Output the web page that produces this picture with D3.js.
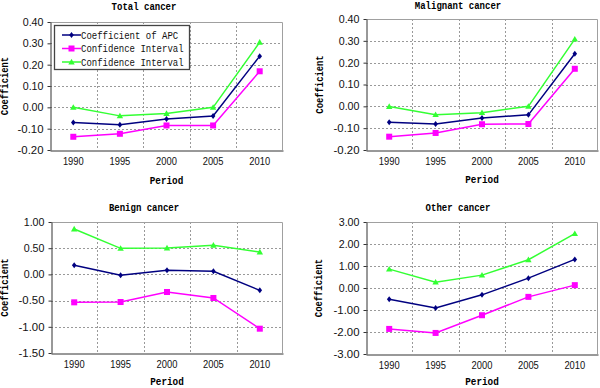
<!DOCTYPE html>
<html>
<head>
<meta charset="utf-8">
<script src="https://cdn.jsdelivr.net/npm/d3@7"></script>
<style>
  body { margin: 0; background: #fff; }
  svg { display: block; font-family: "Liberation Mono", "DejaVu Sans Mono", monospace; }
  .axis text { font-size: 10.5px; fill: #111; }
</style>
</head>
<body>
<div id="chart"></div>
<script>
const periods = ["1990", "1995", "2000", "2005", "2010"];
const seriesNames = ["Coefficient of APC", "Confidence Interval", "Confidence Interval"];

// values: [APC, lower CI, upper CI]
const totalApc = [-0.071, -0.082, -0.055, -0.041, 0.240];
const totalLow = [-0.138, -0.124, -0.085, -0.085, 0.169];
const totalHigh = [0.000, -0.040, -0.029, 0.000, 0.305];

const malignantApc = [-0.073, -0.081, -0.053, -0.039, 0.241];
const malignantLow = [-0.139, -0.122, -0.082, -0.081, 0.172];
const malignantHigh = [-0.001, -0.038, -0.029, 0.000, 0.308];

const benignApc = [0.173, -0.018, 0.078, 0.059, -0.304];
const benignLow = [-0.533, -0.527, -0.336, -0.450, -1.036];
const benignHigh = [0.866, 0.497, 0.504, 0.555, 0.427];

const otherApc = [-0.509, -0.904, -0.311, 0.448, 1.299];
const otherLow = [-1.860, -2.043, -1.238, -0.403, 0.130];
const otherHigh = [0.858, 0.266, 0.585, 1.284, 2.468];

const smallTicks = [-0.2, -0.1, 0, 0.1, 0.2, 0.3, 0.4];
const benignTicks = [-1.5, -1, -0.5, 0, 0.5, 1];
const otherTicks = [-3, -2, -1, 0, 1, 2, 3];

const colors = ["#000080", "#ff00ff", "#33ff33"];

const panels = [
  { title: "Total cancer", data: [totalApc, totalLow, totalHigh], ticks: smallTicks,
    box: { l: 50, r: 283, t: 22, b: 150 }, titleX: 144, titleY: 10, ylabX: 8, periodY: 184, legend: true },
  { title: "Malignant cancer", data: [malignantApc, malignantLow, malignantHigh], ticks: smallTicks,
    box: { l: 366, r: 598, t: 19, b: 150 }, titleX: 458, titleY: 9, ylabX: 323, periodY: 183 },
  { title: "Benign cancer", data: [benignApc, benignLow, benignHigh], ticks: benignTicks,
    box: { l: 51, r: 283, t: 222, b: 353 }, titleX: 144, titleY: 211, ylabX: 8, periodY: 385 },
  { title: "Other cancer", data: [otherApc, otherLow, otherHigh], ticks: otherTicks,
    box: { l: 366, r: 598, t: 222, b: 354 }, titleX: 458, titleY: 211, ylabX: 322, periodY: 385 }
];

const width = 600, height = 388;
const svg = d3.select("#chart").append("svg")
  .attr("width", width)
  .attr("height", height);

const fmt = v => d3.format(".2f")(v).replace("\u2212", "-");

// squeeze text to the narrow half-width glyphs of the original
function fit(sel, charW) {
  sel.each(function() {
    d3.select(this)
      .attr("textLength", this.textContent.length * charW)
      .attr("lengthAdjust", "spacingAndGlyphs");
  });
}

function marker(g, type, x, y, color) {
  if (type === 0) {
    g.append("path").attr("d", `M${x},${y - 3}L${x + 2.3},${y}L${x},${y + 3}L${x - 2.3},${y}Z`).attr("fill", color);
  } else if (type === 1) {
    g.append("rect").attr("x", x - 3).attr("y", y - 3).attr("width", 6).attr("height", 6).attr("fill", color);
  } else {
    g.append("path").attr("d", `M${x},${y - 3.2}L${x + 3.2},${y + 2.4}L${x - 3.2},${y + 2.4}Z`).attr("fill", color);
  }
}

panels.forEach(p => {
  const b = p.box;
  const g = svg.append("g");

  const x = d3.scaleBand().domain(periods).range([b.l, b.r]).padding(0);
  const y = d3.scaleLinear().domain(d3.extent(p.ticks)).range([b.b, b.t]);
  const cx = d => x(d) + x.bandwidth() / 2;

  // grid
  g.selectAll(".hg").data(p.ticks.slice(1, -1)).join("line")
    .attr("x1", b.l).attr("x2", b.r)
    .attr("y1", d => Math.round(y(d)) + 0.5).attr("y2", d => Math.round(y(d)) + 0.5)
    .attr("stroke", "#999").attr("stroke-dasharray", "2,2");
  g.selectAll(".vg").data(periods.slice(1)).join("line")
    .attr("x1", d => Math.round(x(d)) + 0.5).attr("x2", d => Math.round(x(d)) + 0.5)
    .attr("y1", b.t).attr("y2", b.b)
    .attr("stroke", "#999").attr("stroke-dasharray", "2,2");

  // frame
  g.append("path")
    .attr("d", `M${b.l},${b.t + 0.5}H${b.r - 0.5}V${b.b}`)
    .attr("fill", "none").attr("stroke", "#a0a0a0");

  // axes
  const ax = g.append("g").attr("class", "axis")
    .attr("transform", `translate(0,${b.b + 0.5})`)
    .call(d3.axisBottom(x).tickSize(0).tickPadding(7));
  ax.select(".domain").attr("stroke", "#333");
  fit(ax.selectAll("text"), 5.2);

  const ay = g.append("g").attr("class", "axis")
    .attr("transform", `translate(${b.l + 0.5},0)`)
    .call(d3.axisLeft(y).tickValues(p.ticks).tickFormat(fmt).tickSize(3).tickSizeOuter(0).tickPadding(4));
  ay.select(".domain").attr("stroke", "#333");
  ay.selectAll(".tick line").attr("stroke", "#333");
  fit(ay.selectAll("text"), 5.2);

  // series
  p.data.forEach((vals, si) => {
    const line = d3.line().x((d, i) => cx(periods[i])).y(d => y(d));
    g.append("path").datum(vals)
      .attr("d", line)
      .attr("fill", "none")
      .attr("stroke", colors[si])
      .attr("stroke-width", 1.5);
    vals.forEach((v, i) => marker(g, si, cx(periods[i]), y(v), colors[si]));
  });

  // titles
  fit(g.append("text")
    .attr("x", p.titleX).attr("y", p.titleY)
    .attr("text-anchor", "middle").attr("font-size", "11px").attr("font-weight", "bold")
    .text(p.title), 5.4);
  fit(g.append("text")
    .attr("x", (b.l + b.r) / 2).attr("y", p.periodY)
    .attr("text-anchor", "middle").attr("font-size", "11px").attr("font-weight", "bold")
    .text("Period"), 5.6);
  fit(g.append("text")
    .attr("transform", `translate(${p.ylabX},${(b.t + b.b) / 2}) rotate(-90)`)
    .attr("text-anchor", "middle").attr("font-size", "11px").attr("font-weight", "bold")
    .text("Coefficient"), 5.3);

  // legend
  if (p.legend) {
    const lg = g.append("g").attr("transform", "translate(54,25)");
    lg.append("rect").attr("x", 0.5).attr("y", 0.5).attr("width", 135).attr("height", 44)
      .attr("fill", "#fff").attr("stroke", "#444").attr("stroke-width", 1.3);
    seriesNames.forEach((name, i) => {
      const ly = 10 + i * 13.5;
      lg.append("line").attr("x1", 8).attr("x2", 27).attr("y1", ly).attr("y2", ly)
        .attr("stroke", colors[i]).attr("stroke-width", 1.5);
      marker(lg, i, 17.5, ly, colors[i]);
      fit(lg.append("text").attr("x", 27).attr("y", ly + 3.5)
        .attr("font-size", "10.5px").attr("fill", "#111").text(name), 5.4);
    });
  }
});
</script>
</body>
</html>
